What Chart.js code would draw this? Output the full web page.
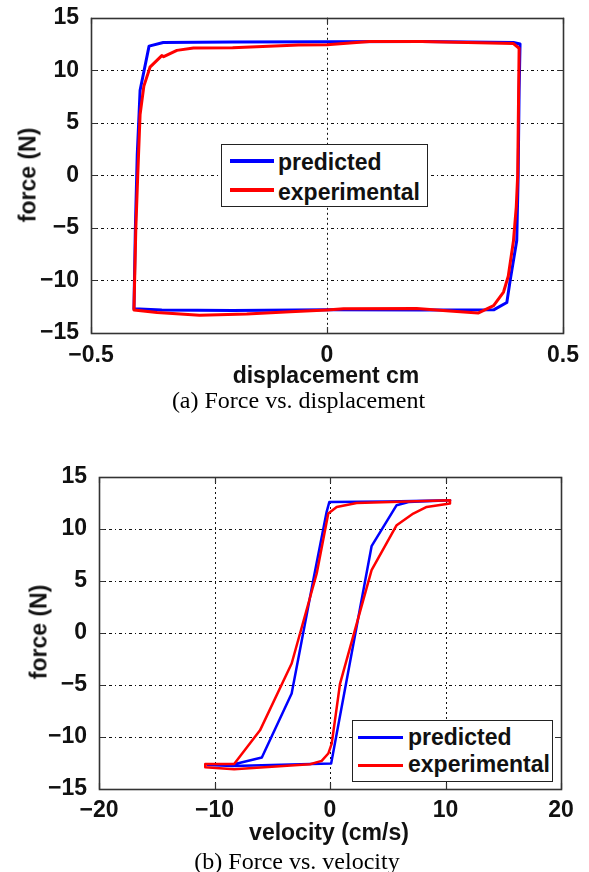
<!DOCTYPE html>
<html>
<head>
<meta charset="utf-8">
<script src="https://cdn.jsdelivr.net/npm/chart.js@4.4.1/dist/chart.umd.min.js"></script>
<style>
  html, body { margin: 0; padding: 0; background: #fff; }
  #wrap { position: relative; width: 589px; height: 872px; overflow: hidden; background: #fff; }
  canvas { position: absolute; left: 0; }
  .t { position: absolute; white-space: nowrap; line-height: 1; color: #111; }
  .sans { font-family: "Liberation Sans", Arial, sans-serif; font-weight: bold; font-size: 23px; }
  .serif { font-family: "Liberation Serif", "Times New Roman", serif; font-size: 24px; color: #000; }
  .leg { position: absolute; background: #fff; border: 1.5px solid #222; box-sizing: border-box; }
  .ll { position: absolute; }
</style>
</head>
<body>
<div id="wrap">
  <canvas id="c1" width="589" height="400" style="top:0px;width:589px;height:400px"></canvas>
  <canvas id="c2" width="589" height="400" style="top:440px;width:589px;height:400px"></canvas>
</div>
<script>
// ---------- data ----------
const forceTicks = [-15, -10, -5, 0, 5, 10, 15];
const dispTicks = [-0.5, 0, 0.5];
const velTicks = [-20, -10, 0, 10, 20];

// (a) force vs displacement
const dispPredX = [-0.409, -0.406, -0.402, -0.398, -0.396, -0.377, -0.347, -0.2, 0, 0.2, 0.395, 0.409, 0.407, 0.405, 0.402, 0.388, 0.381, 0.354, 0.2, 0, -0.2, -0.35, -0.409];
const dispPredY = [-12.7, -5, 2, 6, 8.1, 12.3, 12.65, 12.7, 12.72, 12.74, 12.65, 12.5, 8, 0, -6.2, -10, -12.1, -12.78, -12.8, -12.78, -12.85, -12.8, -12.7];
const dispExpX = [-0.409, -0.405, -0.401, -0.396, -0.388, -0.375, -0.35, -0.346, -0.318, -0.283, -0.2, -0.06, 0, 0.09, 0.2, 0.395, 0.407, 0.404, 0.401, 0.395, 0.384, 0.374, 0.353, 0.32, 0.26, 0.19, 0.035, 0, -0.078, -0.17, -0.27, -0.36, -0.409];
const dispExpY = [-12.8, -5, 0, 5.8, 8.5, 10.3, 11.4, 11.3, 11.9, 12.12, 12.15, 12.4, 12.43, 12.75, 12.75, 12.55, 12.1, 0, -3, -6.25, -9.6, -11.1, -12.4, -13.1, -12.9, -12.66, -12.7, -12.8, -12.97, -13.2, -13.3, -13.04, -12.8];

// (b) force vs velocity
const velPredX = [-10.6, -8.4, -5.9, -3.32, -1.45, -0.29, -0.06, 5, 10.4, 6.8, 5.77, 3.6, 0.1, -3.4, -8.4, -10.6];
const velPredY = [-12.7, -12.65, -11.97, -5.82, 5.08, 11.65, 12.6, 12.65, 12.77, 12.6, 12.29, 8.35, -12.55, -12.65, -12.8, -12.7];
const velExpX = [-10.8, -8.3, -6.06, -3.32, -1.15, -0.15, 0.58, 2.31, 10.39, 10.39, 8.37, 7.21, 5.77, 3.6, 0.87, 0.15, -0.15, -0.72, -1.73, -3.4, -8.3, -10.8, -10.8];
const velExpY = [-12.6, -12.6, -9.36, -2.93, 5.72, 11.49, 12.12, 12.5, 12.77, 12.45, 12.12, 11.49, 10.37, 6.04, -4.86, -10.63, -11.59, -12.3, -12.62, -12.75, -13.1, -12.9, -12.6];

const seriesNames = ['predicted', 'experimental'];
const seriesColors = ['#0000ff', '#ff0000'];

// ---------- helpers ----------
function pts(xs, ys) { return xs.map((x, i) => ({ x: x, y: ys[i] })); }
function fmt(v) { return v === 0 ? '0' : String(v).replace('-', '\u2212'); }

function axis(min, max, tickArr, isY, fitSize, pad) {
  return {
    type: 'linear', min: min, max: max,
    grid: { display: false }, border: { display: false },
    afterBuildTicks: s => { s.ticks = tickArr.map(v => ({ value: v })); },
    afterFit: s => { if (isY) s.width = fitSize; else s.height = fitSize; },
    ticks: {
      font: { family: 'Liberation Sans', weight: 'bold', size: 23 },
      color: '#111', padding: pad, autoSkip: false, maxRotation: 0, minRotation: 0,
      callback: v => fmt(v)
    }
  };
}

const framePlugin = {
  id: 'frame',
  beforeDatasetsDraw(chart) {
    const ctx = chart.ctx, a = chart.chartArea;
    const xs = chart.scales.x, ys = chart.scales.y;
    ctx.save();
    ctx.strokeStyle = '#111';
    ctx.lineWidth = 1;
    xs.ticks.forEach(t => {
      const px = Math.round(xs.getPixelForValue(t.value)) + 0.5;
      if (px <= a.left + 1 || px >= a.right - 1) return;
      ctx.setLineDash([2, 3]);
      ctx.beginPath(); ctx.moveTo(px, a.top); ctx.lineTo(px, a.bottom); ctx.stroke();
    });
    ys.ticks.forEach(t => {
      const py = Math.round(ys.getPixelForValue(t.value)) + 0.5;
      if (py <= a.top + 1 || py >= a.bottom - 1) return;
      ctx.setLineDash([3, 3, 1, 3]);
      ctx.beginPath(); ctx.moveTo(a.left, py); ctx.lineTo(a.right, py); ctx.stroke();
    });
    ctx.restore();
  },
  afterDatasetsDraw(chart) {
    const ctx = chart.ctx, a = chart.chartArea;
    const xs = chart.scales.x, ys = chart.scales.y;
    const L = 6;
    ctx.save();
    ctx.setLineDash([]);
    ctx.strokeStyle = '#333';
    ctx.lineWidth = 1.2;
    xs.ticks.forEach(t => {
      const px = Math.round(xs.getPixelForValue(t.value)) + 0.5;
      ctx.beginPath();
      ctx.moveTo(px, a.bottom); ctx.lineTo(px, a.bottom - L);
      ctx.moveTo(px, a.top); ctx.lineTo(px, a.top + L);
      ctx.stroke();
    });
    ys.ticks.forEach(t => {
      const py = Math.round(ys.getPixelForValue(t.value)) + 0.5;
      ctx.beginPath();
      ctx.moveTo(a.left, py); ctx.lineTo(a.left + L, py);
      ctx.moveTo(a.right, py); ctx.lineTo(a.right - L, py);
      ctx.stroke();
    });
    ctx.lineWidth = 1.6;
    ctx.strokeRect(Math.round(a.left) + 0.5, Math.round(a.top) + 0.5, Math.round(a.right - a.left), Math.round(a.bottom - a.top));
    ctx.restore();
  }
};

function makeChart(id, predX, predY, expX, expY, xMin, xMax, xTicks, yWidth, xHeight, pad, lw, xPad) {
  return new Chart(document.getElementById(id), {
    type: 'scatter',
    data: {
      datasets: [
        { label: seriesNames[1], data: pts(expX, expY), borderColor: seriesColors[1], backgroundColor: seriesColors[1], showLine: true, pointRadius: 0, borderWidth: lw, borderJoinStyle: 'round', borderCapStyle: 'round', tension: 0, order: 0 },
        { label: seriesNames[0], data: pts(predX, predY), borderColor: seriesColors[0], backgroundColor: seriesColors[0], showLine: true, pointRadius: 0, borderWidth: lw, borderJoinStyle: 'round', borderCapStyle: 'round', tension: 0, order: 1 }
      ]
    },
    options: {
      responsive: false, animation: false, devicePixelRatio: 1,
      layout: { padding: pad },
      plugins: { legend: { display: false }, tooltip: { enabled: false } },
      scales: {
        x: axis(xMin, xMax, xTicks, false, xHeight, xPad),
        y: axis(-15, 15, forceTicks, true, yWidth, 4)
      },
      events: []
    },
    plugins: [framePlugin]
  });
}

makeChart('c1', dispPredX, dispPredY, dispExpX, dispExpY, -0.5, 0.5, dispTicks, 91, 67, { top: 16, right: 26, left: 0, bottom: 0 }, 3, 1);
makeChart('c2', velPredX, velPredY, velExpX, velExpY, -20, 20, velTicks, 99, 51, { top: 37, right: 28, left: 0, bottom: 0 }, 2.5, 0);

// ---------- html text ----------
const wrap = document.getElementById('wrap');
function addText(txt, cls, cx, baseline, fs, asc) {
  const d = document.createElement('div');
  d.className = 't ' + cls;
  d.textContent = txt;
  d.style.left = cx + 'px';
  d.style.top = (baseline - asc * fs) + 'px';
  d.style.transform = 'translateX(-50%)';
  wrap.appendChild(d);
}
function addVText(txt, cx, cy) {
  const d = document.createElement('div');
  d.className = 't sans';
  d.textContent = txt;
  d.style.left = cx + 'px';
  d.style.top = cy + 'px';
  d.style.transform = 'translate(-50%,-50%) rotate(-90deg)';
  wrap.appendChild(d);
}
addText('displacement cm', 'sans', 326, 383, 23, 0.8465);
addText('(a) Force vs. displacement', 'serif', 298.5, 408, 24, 0.8375);
addVText('force (N)', 28, 175);
addText('velocity (cm/s)', 'sans', 329, 840, 23, 0.8465);
addText('(b) Force vs. velocity', 'serif', 297, 869, 24, 0.8375);
addVText('force (N)', 39, 632);

function addLegend(left, top, w, h, lineX0, lineX1, lineYs, lineW, textX, baselines) {
  const box = document.createElement('div');
  box.className = 'leg';
  box.style.left = left + 'px'; box.style.top = top + 'px';
  box.style.width = w + 'px'; box.style.height = h + 'px';
  wrap.appendChild(box);
  seriesNames.forEach((name, i) => {
    const ln = document.createElement('div');
    ln.className = 'll';
    ln.style.left = lineX0 + 'px';
    ln.style.width = (lineX1 - lineX0) + 'px';
    ln.style.top = Math.round(lineYs[i] - lineW / 2) + 'px';
    ln.style.height = lineW + 'px';
    ln.style.background = seriesColors[i];
    wrap.appendChild(ln);
    const t = document.createElement('div');
    t.className = 't sans';
    t.textContent = name;
    t.style.left = textX + 'px';
    t.style.top = (baselines[i] - 0.8465 * 23) + 'px';
    wrap.appendChild(t);
  });
}
addLegend(221, 144, 207, 63, 230, 274, [160.7, 190.3], 4, 278, [170, 200]);
addLegend(352, 720, 201, 62, 358, 403, [737.7, 765], 3, 408, [745, 772]);
</script>
</body>
</html>
